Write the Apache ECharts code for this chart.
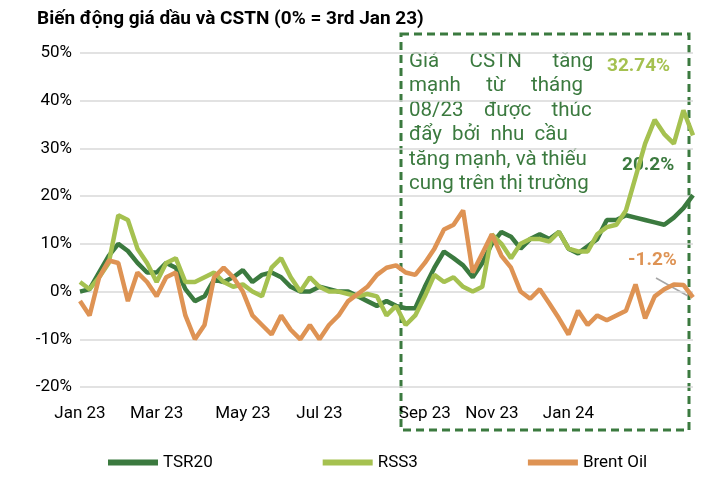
<!DOCTYPE html>
<html><head><meta charset="utf-8">
<script src="https://cdn.jsdelivr.net/npm/echarts@6/dist/echarts.min.js"></script>
<style>html,body{margin:0;padding:0;background:#fff}#c{width:722px;height:486px}</style>
</head><body><div id="c"></div>
<script>
const tsr20 = [0,0.5,4,7.5,10,8.5,6,4,4,6,5,0.5,-2,-1,2.5,2,3,4.5,2,3.5,4,3,1,0,0,1,0.5,0,0,-1,-2,-3,-2,-3,-3.5,-3.5,1,5,8.4,7,5.5,3,6,10,12.5,11.5,9,11,12,11,12.5,9,8,9.5,11,15,15,16,15.5,15,14.5,14,15.5,17.5,20.2];
const rss3 = [2,0.5,3,6,16,15,9,6,2,6,7,2,2,3,4,2,1,1.5,0,-1,5,7,3,0,3,1,0,0,-0.5,-1,-0.5,-1,-5,-3,-7,-5,-1,3.5,2,3,1,0,1,12,10,7,10,11,11,10.5,12.5,9,8.4,8.4,12,13.5,14,17,24,31,36,33,31,38,32.74];
const brent = [-2,-5,3,6.5,6,-2,4,2,-1,3,4,-5,-10,-7,3,5,3,0,-5,-7,-9,-5,-8,-10,-7,-10,-7,-5,-2,-0.5,1,3.5,5,5.5,4,3.5,6,9,13,14,17,4,8,12,7.5,5,0,-1.5,0.5,-2.5,-5.6,-9,-4,-7,-5,-6,-5,-4,1.5,-5.6,-1,0.5,1.5,1.4,-1.2];
const tickLabels = {0:'Jan 23',8:'Mar 23',17:'May 23',25:'Jul 23',36:'Sep 23',43:'Nov 23',51:'Jan 24'};
const categories = tsr20.map((_,i)=>String(i));
const F = 'Roboto, "Noto Sans", sans-serif';
const chart = echarts.init(document.getElementById('c'));
const mk = (name,data,color)=>({name,type:'line',data,symbol:'none',smooth:false,lineStyle:{width:4.5,color},itemStyle:{color}});
const noteLines = ['Giá      CSTN      tăng','mạnh     từ     tháng','08/23    được    thúc','đẩy  bởi  nhu  cầu','tăng mạnh, và thiếu','cung trên thị trường'];
chart.setOption({
  animation:false,
  title:{text:'Biến động giá dầu và CSTN (0% = 3rd Jan 23)',left:32,top:5,textStyle:{fontFamily:F,fontSize:19,fontWeight:'bold',color:'#000'}},
  legend:{bottom:10,left:103,itemGap:110,itemWidth:50,itemHeight:6,icon:'rect',textStyle:{fontFamily:F,fontSize:17,color:'#000'},data:['TSR20','RSS3','Brent Oil']},
  grid:{left:80,right:29,top:53,bottom:99},
  xAxis:{type:'category',data:categories,boundaryGap:false,axisTick:{show:false},axisLine:{show:false},
    axisLabel:{interval:(i)=>tickLabels[i]!==undefined,formatter:(v,i)=>tickLabels[i]||'',fontFamily:F,fontSize:17,color:'#000',margin:18}},
  yAxis:{type:'value',min:-20,max:50,interval:10,axisLabel:{formatter:'{value}%',fontFamily:F,fontSize:17,color:'#000'},
    splitLine:{lineStyle:{color:'#d9d9d9',width:1.5}}},
  series:[mk('TSR20',tsr20,'#3b7a3f'),mk('RSS3',rss3,'#a5c150'),mk('Brent Oil',brent,'#de9354')],
  graphic:[
    {type:'rect',shape:{x:401,y:34,width:288,height:396},style:{fill:'none',stroke:'#3b7a3f',lineWidth:3,lineDash:[8,5]}},
    ...noteLines.map((t,k)=>({type:'text',left:409,top:51+k*24.5,style:{text:t,fontFamily:F,fontSize:20.5,fill:'#3b7a3f'}})),
    {type:'text',left:607,top:57,style:{text:'32.74%',fontFamily:F,fontSize:19,fontWeight:'bold',fill:'#a5c150'}},
    {type:'text',left:622,top:156,style:{text:'20.2%',fontFamily:F,fontSize:19,fontWeight:'bold',fill:'#3b7a3f'}},
    {type:'text',left:628,top:251,style:{text:'-1.2%',fontFamily:F,fontSize:19,fontWeight:'bold',fill:'#de9354'}},
    {type:'line',shape:{x1:656,y1:278,x2:688,y2:296},style:{stroke:'#a6a6a6',lineWidth:1.5}}
  ]
});
</script></body></html>
